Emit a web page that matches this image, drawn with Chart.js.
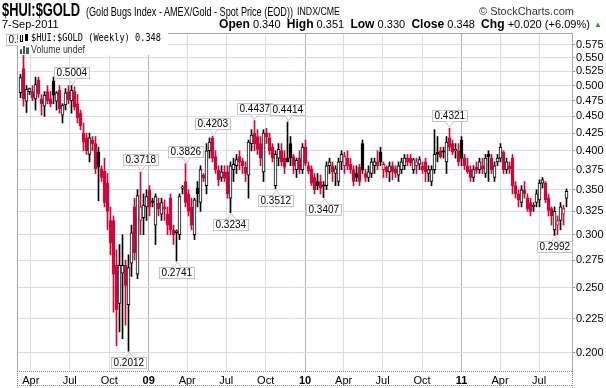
<!DOCTYPE html>
<html>
<head>
<meta charset="utf-8">
<script src="https://cdn.jsdelivr.net/npm/chart.js@4.4.0/dist/chart.umd.min.js"></script>
<style>
  body { margin: 0; background: #fff; }
  #wrap { position: relative; width: 606px; height: 388px; overflow: hidden; font-family: "Liberation Sans", Arial, sans-serif; }
  canvas { position: absolute; left: 0; top: 0; }
  .t { position: absolute; white-space: nowrap; color: #000; transform-origin: 0 0; }
  #legend { left: 18px; top: 33px; width: 150px; height: 22px; background: #fff; }
  #legend .t { font: 11px "DejaVu Sans Mono", monospace; line-height: 12px; }
</style>
</head>
<body>
<div id="wrap">
  <canvas id="chart" width="606" height="388"></canvas>
  <div class="t" data-fit="78" style="left:2px;top:0px;font-weight:bold;font-size:18px;line-height:20px;">$HUI:$GOLD</div>
  <div class="t" data-fit="207" style="left:86px;top:5px;font-size:12px;">(Gold Bugs Index - AMEX/Gold - Spot Price (EOD))</div>
  <div class="t" data-fit="43" style="left:297px;top:6px;font-size:10px;">INDX/CME</div>
  <div class="t" style="left:479px;top:5px;font-size:11px;color:#333;">&copy; StockCharts.com</div>
  <div class="t" style="left:2px;top:18px;font-size:11px;">7-Sep-2011</div>
  <div class="t" style="left:219px;top:17px;font-size:11px;" data-fit="371"><b style="font-size:12px">Open</b> 0.340 &nbsp;<b style="font-size:12px">High</b> 0.351 &nbsp;<b style="font-size:12px">Low</b> 0.330 &nbsp;<b style="font-size:12px">Close</b> 0.348 &nbsp;<b style="font-size:12px">Chg</b> +0.020 (+6.09%)</div>
  <div class="t" style="left:594px;top:20px;font-size:8px;color:#2e9b2e;">&#9650;</div>
  <div class="t" id="legend">
    <span style="position:absolute;left:2px;top:2px;width:3px;height:7px;border:1px solid #000;border-top:none;box-sizing:border-box"></span>
    <span style="position:absolute;left:7px;top:1px;width:3px;height:7px;background:#000"></span>
    <div class="t" data-fit="130" style="left:13px;top:-1px;">$HUI:$GOLD (Weekly) 0.348</div>
    <span style="position:absolute;left:2px;top:13px;width:9px;height:8px;background:linear-gradient(90deg,#555 0 2px,#fff 2px 3px,#555 3px 5px,#fff 5px 6px,#555 6px);clip-path:polygon(0 40%,33% 40%,33% 0,66% 0,66% 20%,100% 20%,100% 100%,0 100%)"></span>
    <div class="t" data-fit="54" style="left:13px;top:11px;font:10px 'Liberation Sans',Arial,sans-serif;color:#333;">Volume undef</div>
  </div>
</div>
<script>
// weekly bars, first week ending around 8-Mar-2008, last 7-Sep-2011
const firstWeek = '2008-03-08';

const open = [
  0.488, 0.530, 0.474, 0.490, 0.490, 0.478, 0.510, 0.478, 0.466, 0.490,
  0.478, 0.508, 0.474, 0.492, 0.452, 0.468, 0.490, 0.475, 0.490, 0.470,
  0.455, 0.425, 0.418, 0.395, 0.415, 0.410, 0.398, 0.376, 0.373, 0.358,
  0.315, 0.315, 0.270, 0.237, 0.263, 0.270, 0.236, 0.272, 0.330, 0.262,
  0.315, 0.318, 0.330, 0.350, 0.337, 0.310, 0.334, 0.322, 0.330, 0.322,
  0.340, 0.305, 0.302, 0.300, 0.352, 0.360, 0.345, 0.330, 0.300, 0.352,
  0.335, 0.368, 0.355, 0.400, 0.418, 0.392, 0.374, 0.365, 0.372, 0.372,
  0.340, 0.375, 0.380, 0.392, 0.386, 0.378, 0.368, 0.410, 0.425, 0.420,
  0.410, 0.372, 0.425, 0.418, 0.405, 0.355, 0.390, 0.400, 0.390, 0.390,
  0.410, 0.392, 0.375, 0.390, 0.375, 0.405, 0.380, 0.376, 0.365, 0.360,
  0.360, 0.356, 0.355, 0.380, 0.380, 0.370, 0.360, 0.385, 0.380, 0.390,
  0.382, 0.375, 0.370, 0.378, 0.410, 0.370, 0.365, 0.370, 0.380, 0.385,
  0.398, 0.375, 0.378, 0.372, 0.380, 0.376, 0.368, 0.375, 0.380, 0.390,
  0.390, 0.375, 0.380, 0.382, 0.380, 0.385, 0.370, 0.360, 0.375, 0.398,
  0.400, 0.400, 0.385, 0.418, 0.410, 0.400, 0.400, 0.415, 0.390, 0.380,
  0.375, 0.365, 0.378, 0.375, 0.380, 0.370, 0.395, 0.390, 0.365, 0.385,
  0.390, 0.398, 0.375, 0.380, 0.390, 0.355, 0.345, 0.335, 0.350, 0.340,
  0.335, 0.330, 0.335, 0.338, 0.358, 0.358, 0.340, 0.328, 0.305, 0.310,
  0.315, 0.322, 0.340
];
const high = [
  0.520, 0.561, 0.500, 0.496, 0.500, 0.515, 0.515, 0.485, 0.490, 0.500,
  0.490, 0.515, 0.490, 0.500, 0.470, 0.495, 0.500, 0.5004, 0.498, 0.485,
  0.460, 0.440, 0.425, 0.425, 0.420, 0.420, 0.405, 0.380, 0.390, 0.370,
  0.330, 0.320, 0.285, 0.290, 0.300, 0.275, 0.280, 0.310, 0.340, 0.350,
  0.3718, 0.345, 0.350, 0.355, 0.340, 0.345, 0.340, 0.340, 0.338, 0.330,
  0.345, 0.310, 0.305, 0.345, 0.355, 0.3826, 0.350, 0.340, 0.340, 0.360,
  0.380, 0.370, 0.410, 0.418, 0.4203, 0.400, 0.380, 0.380, 0.380, 0.380,
  0.385, 0.390, 0.395, 0.400, 0.390, 0.385, 0.415, 0.430, 0.4437, 0.430,
  0.420, 0.430, 0.432, 0.425, 0.410, 0.400, 0.410, 0.410, 0.400, 0.4414,
  0.420, 0.395, 0.390, 0.400, 0.410, 0.415, 0.385, 0.380, 0.370, 0.370,
  0.368, 0.360, 0.385, 0.390, 0.385, 0.380, 0.390, 0.400, 0.398, 0.400,
  0.390, 0.380, 0.380, 0.382, 0.415, 0.375, 0.380, 0.390, 0.390, 0.400,
  0.405, 0.385, 0.380, 0.385, 0.385, 0.380, 0.385, 0.390, 0.395, 0.395,
  0.395, 0.390, 0.390, 0.392, 0.385, 0.390, 0.380, 0.380, 0.430, 0.420,
  0.405, 0.405, 0.420, 0.4321, 0.415, 0.410, 0.410, 0.420, 0.395, 0.390,
  0.380, 0.380, 0.385, 0.390, 0.390, 0.395, 0.400, 0.395, 0.385, 0.395,
  0.410, 0.400, 0.390, 0.385, 0.395, 0.360, 0.350, 0.355, 0.360, 0.345,
  0.340, 0.335, 0.350, 0.362, 0.365, 0.360, 0.345, 0.330, 0.330, 0.320,
  0.335, 0.332, 0.351
];
const low = [
  0.480, 0.466, 0.456, 0.485, 0.475, 0.460, 0.480, 0.452, 0.450, 0.470,
  0.465, 0.470, 0.460, 0.455, 0.440, 0.460, 0.470, 0.455, 0.460, 0.440,
  0.430, 0.400, 0.395, 0.385, 0.400, 0.370, 0.337, 0.360, 0.330, 0.305,
  0.280, 0.230, 0.205, 0.215, 0.210, 0.220, 0.2012, 0.260, 0.275, 0.258,
  0.300, 0.300, 0.315, 0.320, 0.330, 0.290, 0.320, 0.315, 0.315, 0.300,
  0.300, 0.290, 0.2741, 0.295, 0.345, 0.330, 0.320, 0.305, 0.295, 0.330,
  0.325, 0.360, 0.345, 0.390, 0.385, 0.370, 0.355, 0.360, 0.360, 0.340,
  0.3234, 0.360, 0.370, 0.375, 0.370, 0.360, 0.340, 0.400, 0.400, 0.395,
  0.380, 0.360, 0.410, 0.395, 0.385, 0.3512, 0.380, 0.380, 0.370, 0.385,
  0.380, 0.370, 0.365, 0.370, 0.370, 0.380, 0.370, 0.355, 0.345, 0.350,
  0.345, 0.3407, 0.350, 0.370, 0.360, 0.355, 0.355, 0.375, 0.370, 0.375,
  0.370, 0.355, 0.360, 0.355, 0.370, 0.360, 0.360, 0.365, 0.370, 0.375,
  0.380, 0.365, 0.365, 0.360, 0.362, 0.365, 0.360, 0.370, 0.375, 0.380,
  0.380, 0.370, 0.370, 0.375, 0.370, 0.360, 0.360, 0.355, 0.370, 0.385,
  0.390, 0.390, 0.370, 0.400, 0.395, 0.390, 0.380, 0.380, 0.375, 0.370,
  0.360, 0.360, 0.370, 0.370, 0.370, 0.365, 0.360, 0.370, 0.360, 0.380,
  0.385, 0.370, 0.370, 0.370, 0.345, 0.340, 0.330, 0.330, 0.340, 0.325,
  0.320, 0.325, 0.330, 0.330, 0.352, 0.335, 0.320, 0.310, 0.2992, 0.300,
  0.305, 0.310, 0.330
];
const close = [
  0.514, 0.478, 0.494, 0.495, 0.480, 0.502, 0.486, 0.470, 0.484, 0.475,
  0.470, 0.484, 0.488, 0.462, 0.468, 0.488, 0.476, 0.492, 0.465, 0.448,
  0.436, 0.412, 0.400, 0.418, 0.410, 0.376, 0.378, 0.365, 0.335, 0.325,
  0.292, 0.262, 0.232, 0.270, 0.270, 0.252, 0.268, 0.302, 0.282, 0.343,
  0.330, 0.332, 0.342, 0.330, 0.335, 0.342, 0.328, 0.335, 0.328, 0.310,
  0.305, 0.300, 0.304, 0.342, 0.352, 0.335, 0.325, 0.310, 0.338, 0.345,
  0.375, 0.364, 0.400, 0.412, 0.390, 0.375, 0.362, 0.372, 0.364, 0.345,
  0.380, 0.382, 0.388, 0.385, 0.380, 0.370, 0.412, 0.422, 0.410, 0.402,
  0.390, 0.425, 0.420, 0.400, 0.390, 0.395, 0.402, 0.385, 0.378, 0.385,
  0.390, 0.380, 0.387, 0.375, 0.405, 0.383, 0.373, 0.358, 0.350, 0.355,
  0.352, 0.354, 0.380, 0.385, 0.372, 0.376, 0.385, 0.395, 0.392, 0.380,
  0.375, 0.360, 0.365, 0.360, 0.375, 0.365, 0.372, 0.385, 0.385, 0.380,
  0.385, 0.382, 0.372, 0.380, 0.372, 0.370, 0.380, 0.385, 0.390, 0.385,
  0.384, 0.388, 0.385, 0.388, 0.375, 0.372, 0.375, 0.375, 0.395, 0.395,
  0.392, 0.398, 0.412, 0.405, 0.398, 0.402, 0.385, 0.390, 0.380, 0.372,
  0.365, 0.375, 0.374, 0.385, 0.376, 0.390, 0.392, 0.375, 0.380, 0.390,
  0.405, 0.375, 0.385, 0.376, 0.355, 0.345, 0.338, 0.350, 0.345, 0.328,
  0.325, 0.332, 0.345, 0.358, 0.362, 0.338, 0.326, 0.320, 0.325, 0.315,
  0.330, 0.328, 0.348
];

// x axis: quarter ticks
const tickDates = ['2008-04-01', '2008-07-01', '2008-10-01', '2009-01-01', '2009-04-01', '2009-07-01',
  '2009-10-01', '2010-01-01', '2010-04-01', '2010-07-01', '2010-10-01', '2011-01-01', '2011-04-01', '2011-07-01'];
const tickLabels = ['Apr', 'Jul', 'Oct', '09', 'Apr', 'Jul', 'Oct', '10', 'Apr', 'Jul', 'Oct', '11', 'Apr', 'Jul'];
const yTicks = [0.2, 0.225, 0.25, 0.275, 0.3, 0.325, 0.35, 0.375, 0.4, 0.425, 0.45, 0.475, 0.5, 0.525, 0.55, 0.575];

// marked highs / lows
const noteWeek = [1, 17, 40, 36, 52, 55, 64, 70, 78, 89, 85, 101, 143, 178];
const noteVal = [0.561, 0.5004, 0.3718, 0.2012, 0.2741, 0.3826, 0.4203, 0.3234, 0.4437, 0.4414, 0.3512, 0.3407, 0.4321, 0.2992];
const noteSide = ['h', 'h', 'h', 'l', 'l', 'h', 'h', 'l', 'h', 'h', 'l', 'l', 'h', 'l'];

const RED = '#d1063a';

// squeeze header texts to the reference widths (no narrow font installed)
document.querySelectorAll('[data-fit]').forEach(el => {
    const w = el.getBoundingClientRect().width;
    el.style.transform = 'scaleX(' + (Number(el.dataset.fit) / w) + ')';
});

function dayOf(s) {
    const [y, m, d] = s.split('-').map(Number);
    return (Date.UTC(y, m - 1, d) - Date.UTC(2008, 0, 1)) / 86400000;
}

const day0 = dayOf(firstWeek);
const weekDays = close.map((c, i) => day0 + 7 * i);
const tickDays = tickDates.map(dayOf);
const xMin = day0 - 3.5 * 7 / 3;
const xMax = xMin + 555 * 7 / 3;

const barColor = close.map((c, i) => (i > 0 && c < close[i - 1]) ? RED : '#000');
const bodyFill = close.map((c, i) => c >= open[i] ? '#fff' : barColor[i]);

const wicks = weekDays.map((d, i) => ({ x: d, y: [low[i], high[i]] }));
const bodies = weekDays.map((d, i) => ({ x: d, y: [Math.min(open[i], close[i]), Math.max(open[i], close[i])] }));

function drawNote(ctx, px, py, text, above, area) {
    ctx.save();
    ctx.font = '10px "Liberation Sans", Arial, sans-serif';
    const w = Math.round(ctx.measureText(text).width) + 4, h = 11;
    let bx = Math.round(px - w / 2) + 0.5;
    if (bx < 0.5) bx = 0.5;
    let by = above ? Math.round(py - 7 - h) + 0.5 : Math.round(py + 6) + 0.5;
    if (by < area.top - 2) by = area.top - 2 + 0.5;
    ctx.lineWidth = 1;
    ctx.fillStyle = '#fff';
    ctx.fillRect(bx, by, w, h);
    ctx.strokeStyle = '#c4c4c4';
    ctx.strokeRect(bx, by, w, h);
    const cx = Math.round(px) + 0.5;
    ctx.beginPath();
    if (above) {
        const b = by + h;
        if (py - 1 > b) {
            ctx.moveTo(cx - 4, b); ctx.lineTo(cx, py - 1); ctx.lineTo(cx + 4, b);
        }
    } else {
        ctx.moveTo(cx - 4, by); ctx.lineTo(cx, py + 1); ctx.lineTo(cx + 4, by);
    }
    ctx.fillStyle = '#fff';
    ctx.fill();
    ctx.stroke();
    ctx.fillStyle = '#000';
    ctx.textAlign = 'left';
    ctx.textBaseline = 'middle';
    ctx.fillText(text, bx + 2, by + h / 2 + 0.5);
    ctx.restore();
}

const frame = {
    id: 'frame',
    afterDraw(chart) {
        const { ctx, chartArea: a, scales } = chart;
        ctx.save();
        ctx.lineWidth = 1;
        ctx.strokeStyle = '#a8a8a8';
        ctx.beginPath();
        ctx.moveTo(a.left + 0.5, a.bottom); ctx.lineTo(a.left + 0.5, a.top + 0.5);
        ctx.lineTo(a.right + 0.5, a.top + 0.5); ctx.lineTo(a.right + 0.5, a.bottom);
        ctx.stroke();
        ctx.setLineDash([1, 1]);
        ctx.strokeStyle = '#888';
        ctx.beginPath();
        ctx.moveTo(a.left, a.bottom + 0.5); ctx.lineTo(a.right + 1, a.bottom + 0.5);
        ctx.moveTo(a.left, 385.5); ctx.lineTo(a.right + 1, 385.5);
        ctx.moveTo(a.left + 0.5, a.bottom); ctx.lineTo(a.left + 0.5, 388);
        ctx.moveTo(a.right + 0.5, a.bottom); ctx.lineTo(a.right + 0.5, 388);
        ctx.stroke();
        ctx.restore();

        noteWeek.forEach((w, k) => {
            const px = scales.x.getPixelForValue(weekDays[w]);
            const py = scales.y.getPixelForValue(noteVal[k]);
            drawNote(ctx, px, py, noteVal[k].toFixed(4), noteSide[k] === 'h', a);
        });
    }
};

new Chart(document.getElementById('chart'), {
    type: 'bar',
    data: {
        datasets: [
            {
                data: wicks,
                barThickness: 1,
                grouped: false,
                backgroundColor: barColor,
                borderWidth: 0,
                order: 2
            },
            {
                data: bodies,
                barThickness: 3,
                grouped: false,
                backgroundColor: bodyFill,
                borderColor: barColor,
                borderWidth: 1,
                borderSkipped: false,
                minBarLength: 1,
                order: 1
            }
        ]
    },
    options: {
        responsive: false,
        animation: false,
        devicePixelRatio: 1,
        layout: { padding: { left: 17, top: 33, right: 0, bottom: 0 } },
        plugins: { legend: { display: false }, tooltip: { enabled: false } },
        scales: {
            x: {
                type: 'linear',
                min: xMin,
                max: xMax,
                offset: false,
                afterBuildTicks: s => { s.ticks = tickDays.map(v => ({ value: v })); },
                afterFit: s => { s.height = 17; },
                ticks: {
                    autoSkip: false,
                    maxRotation: 0,
                    padding: 3,
                    color: '#000',
                    font: c => ({ family: '"Liberation Sans", Arial, sans-serif', size: 11, weight: /^\d/.test(tickLabels[c.index]) ? 'bold' : 'normal' }),
                    callback: (v, i) => tickLabels[i]
                },
                grid: {
                    offset: false,
                    drawTicks: false,
                    color: c => /^\d/.test(tickLabels[c.index] || '') ? '#b4b4b4' : '#dcdcdc'
                },
                border: { display: false }
            },
            y: {
                type: 'logarithmic',
                position: 'right',
                min: 0.188,
                max: 0.599,
                afterBuildTicks: s => { s.ticks = yTicks.map(v => ({ value: v })); },
                afterFit: s => { s.width = 34; },
                ticks: {
                    autoSkip: false,
                    padding: 1,
                    color: '#000',
                    font: { family: '"Liberation Sans", Arial, sans-serif', size: 11 },
                    callback: v => Number(v).toFixed(3)
                },
                grid: { color: '#dcdcdc', tickLength: 3, tickColor: '#999' },
                border: { display: false }
            }
        }
    },
    plugins: [frame]
});
</script>
</body>
</html>
